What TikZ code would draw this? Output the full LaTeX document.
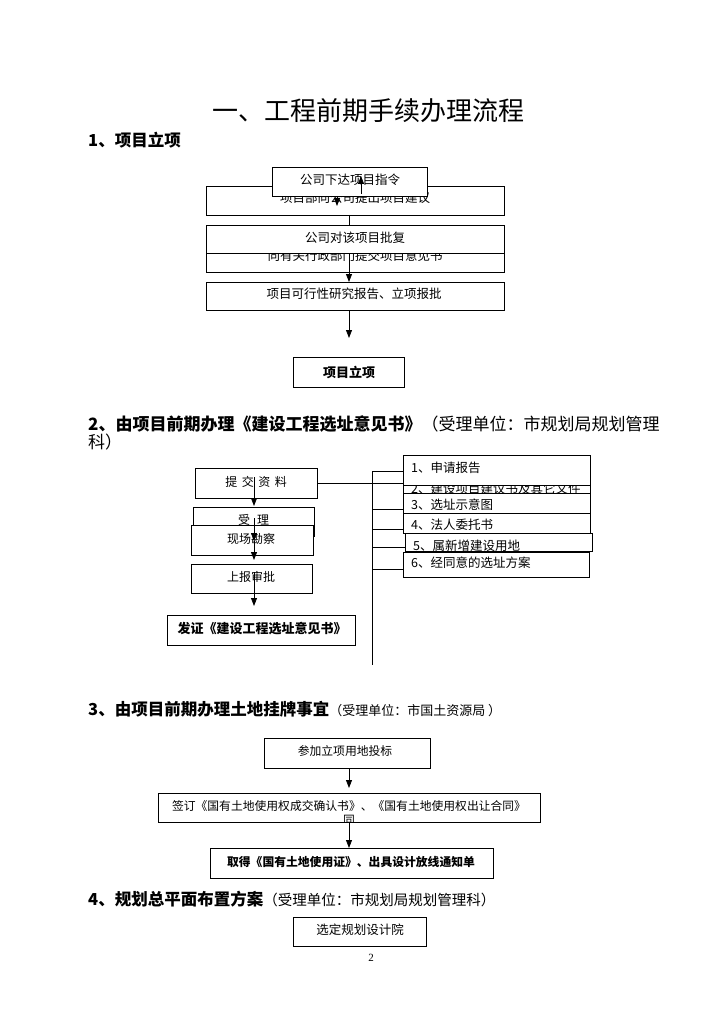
\documentclass[tikz,border=0pt]{standalone}
\usepackage{fontspec}
\setmainfont{Liberation Serif}
\newfontfamily\cjk{Noto Sans CJK SC}
\usetikzlibrary{arrows.meta}
\newcommand{\mkbox}[5]{\node[box, minimum width={(#4-#2)*1pt}, minimum height={(#5-#3)*1pt}] (#1) at ({(#2+#4)/2},{(#3+#5)/2}) {};}
\begin{document}
\begin{tikzpicture}[x=1pt,y=-1pt,
  box/.style={draw, fill=white, line width=0.8pt, inner sep=0pt, anchor=center},
  txt/.style={inner sep=0pt, font=\cjk\fontsize{12.5}{14}\selectfont},
  stxt/.style={inner sep=0pt, font=\cjk\fontsize{11.8}{13}\selectfont},
  btxt/.style={inner sep=0pt, font=\cjk\bfseries\fontsize{13}{15}\selectfont},
  head/.style={inner sep=0pt, anchor=west, font=\cjk\fontsize{17}{19}\selectfont},
  arr/.style={line width=0.8pt, -{Triangle[length=8pt,width=6pt]}},
  ln/.style={line width=0.8pt}]
\useasboundingbox (0,0) rectangle (724,1024);

% title and heading 1
\node[inner sep=0pt, font=\cjk\fontsize{26}{30}\selectfont] (title) at (368,111) {一、工程前期手续办理流程};
\node[head, font=\cjk\bfseries\fontsize{16.5}{19}\selectfont] (h1) at (88,140) {1、项目立项};

% ---------- section 1 ----------
\mkbox{B}{206}{186}{504}{215}
\node[txt] (Bt) at (355,197.5) {项目部向公司提出项目建议};
\mkbox{A}{272}{167}{427}{196}
\node[txt] (At) at (350,180) {公司下达项目指令};
\mkbox{D}{206}{240}{504}{272}
\node[txt] (Dt) at (355,256) {向有关行政部门提交项目意见书};
\mkbox{C}{206}{225}{504}{253}
\node[txt] (Ct) at (355,237.5) {公司对该项目批复};
\mkbox{E}{206}{282}{504}{310}
\node[txt] (Et) at (354,293.5) {项目可行性研究报告、立项报批};
\mkbox{F}{293}{357}{404}{387}
\node[btxt] (Ft) at (349,372) {项目立项};

\coordinate (u1) at (361,194); \coordinate (u2) at (361,176);
\draw[arr] (u1) -- (u2);
\coordinate (d1) at (337,196); \coordinate (d2) at (337,206);
\draw[arr] (d1) -- (d2);
\coordinate (l1) at (349,215); \coordinate (l2) at (349,225);
\draw[ln] (l1) -- (l2);
\coordinate (l3) at (349,253); \coordinate (l4) at (349,282);
\draw[arr] (l3) -- (l4);
\coordinate (l5) at (349,310); \coordinate (l6) at (349,338);
\draw[arr] (l5) -- (l6);

% ---------- section 2 ----------
\node[head] (h2) at (88,424) {{\bfseries 2、由项目前期办理《建设工程选址意见书》}（受理单位：市规划局规划管理};
\node[head] (h2b) at (88,442) {科）};

\mkbox{S1}{195}{468}{317}{498}
\node[txt, font=\cjk\fontsize{12}{14}\selectfont] (S1t) at (256,481.5) {提\hspace{4.5pt}交\hspace{4.5pt}资\hspace{4.5pt}料};
\mkbox{S2}{193}{507}{314}{536}
\node[txt, font=\cjk\fontsize{12}{14}\selectfont] (S2t) at (253.5,519.5) {受\hspace{7pt}理};
\mkbox{S3}{191}{525}{313}{555}
\node[txt, font=\cjk\fontsize{12}{14}\selectfont] (S3t) at (251,538.5) {现场勘察};
\mkbox{S4}{191}{564}{312}{593}
\node[txt, font=\cjk\fontsize{12}{14}\selectfont] (S4t) at (251,577) {上报审批};
\mkbox{S5}{167}{615}{355}{645}
\node[btxt] (S5t) at (262,628.5) {发证《建设工程选址意见书》};

\mkbox{R2}{403}{476}{590}{493}
\node[txt, anchor=west] (R2t) at (411,489) {2、建设项目建议书及其它文件};
\mkbox{R1}{403}{455}{590}{485}
\node[txt, anchor=west] (R1t) at (411,467.5) {1、申请报告};
\mkbox{R3}{403}{493}{590}{513}
\node[txt, anchor=west] (R3t) at (411,505) {3、选址示意图};
\mkbox{R4}{403}{513}{590}{533}
\node[txt, anchor=west] (R4t) at (411,525) {4、法人委托书};
\mkbox{R5}{405}{533}{592}{551}
\node[txt, anchor=west] (R5t) at (413,545.5) {5、属新增建设用地};
\mkbox{R6}{403}{552}{589}{577}
\node[txt, anchor=west] (R6t) at (411,562.5) {6、经同意的选址方案};

\coordinate (bt) at (372,471); \coordinate (bb) at (372,665);
\draw[ln] (bt) -- (bb);
\draw[ln] (S1.east) -- (S1.east -| R1.west);
\draw[ln] (bt) -- (bt -| R1.west);
\coordinate (b3) at (372,509); \draw[ln] (b3) -- (b3 -| R3.west);
\coordinate (b4) at (372,529); \draw[ln] (b4) -- (b4 -| R4.west);
\coordinate (b5) at (372,547); \draw[ln] (b5) -- (b5 -| R5.west);
\coordinate (b6) at (372,569); \draw[ln] (b6) -- (b6 -| R6.west);

\coordinate (s1a) at (254,477); \coordinate (s1b) at (254,506);
\draw[arr] (s1a) -- (s1b);
\coordinate (s2a) at (254,518); \coordinate (s2b) at (254,541); \coordinate (s2c) at (254,560);
\draw[arr] (s2a) -- (s2b);
\draw[arr] (s2b) -- (s2c);
\coordinate (s4a) at (254,572); \coordinate (s4b) at (254,606);
\draw[arr] (s4a) -- (s4b);

% ---------- section 3 ----------
\node[head] (h3) at (88,709) {{\bfseries\fontsize{16.5}{19}\selectfont 3、由项目前期办理土地挂牌事宜}{\fontsize{13}{15}\selectfont（受理单位：市国土资源局\ ）}};

\mkbox{G1}{264}{738}{430}{768}
\node[stxt] (G1t) at (345,751) {参加立项用地投标};
\mkbox{G2}{158}{793}{540}{822}
\node[stxt] (G2t) at (349,805.5) {签订《国有土地使用权成交确认书》、《国有土地使用权出让合同》};
\begin{scope}
\clip (158.4,793) rectangle (539.6,821.6);
\node[stxt] (G2x) at (349,820) {同};
\end{scope}
\mkbox{G3}{210}{848}{493}{878}
\node[btxt, font=\cjk\bfseries\fontsize{11.8}{13}\selectfont] (G3t) at (351,862) {取得《国有土地使用证》、出具设计放线通知单};

\coordinate (g1a) at (349,768); \coordinate (g1b) at (349,788);
\draw[arr] (g1a) -- (g1b);
\coordinate (g2a) at (349,822); \coordinate (g2b) at (349,848);
\draw[arr] (g2a) -- (g2b);

% ---------- section 4 ----------
\node[head] (h4) at (88,899) {{\bfseries\fontsize{16.5}{19}\selectfont 4、规划总平面布置方案}{\fontsize{14.5}{16}\selectfont（受理单位：市规划局规划管理科）}};
\mkbox{H1}{293}{917}{426}{946}
\node[txt] (H1t) at (360,930) {选定规划设计院};

\node[inner sep=0pt, font=\fontsize{11}{12}\selectfont] (pg) at (371,958) {2};
\end{tikzpicture}
\end{document}
